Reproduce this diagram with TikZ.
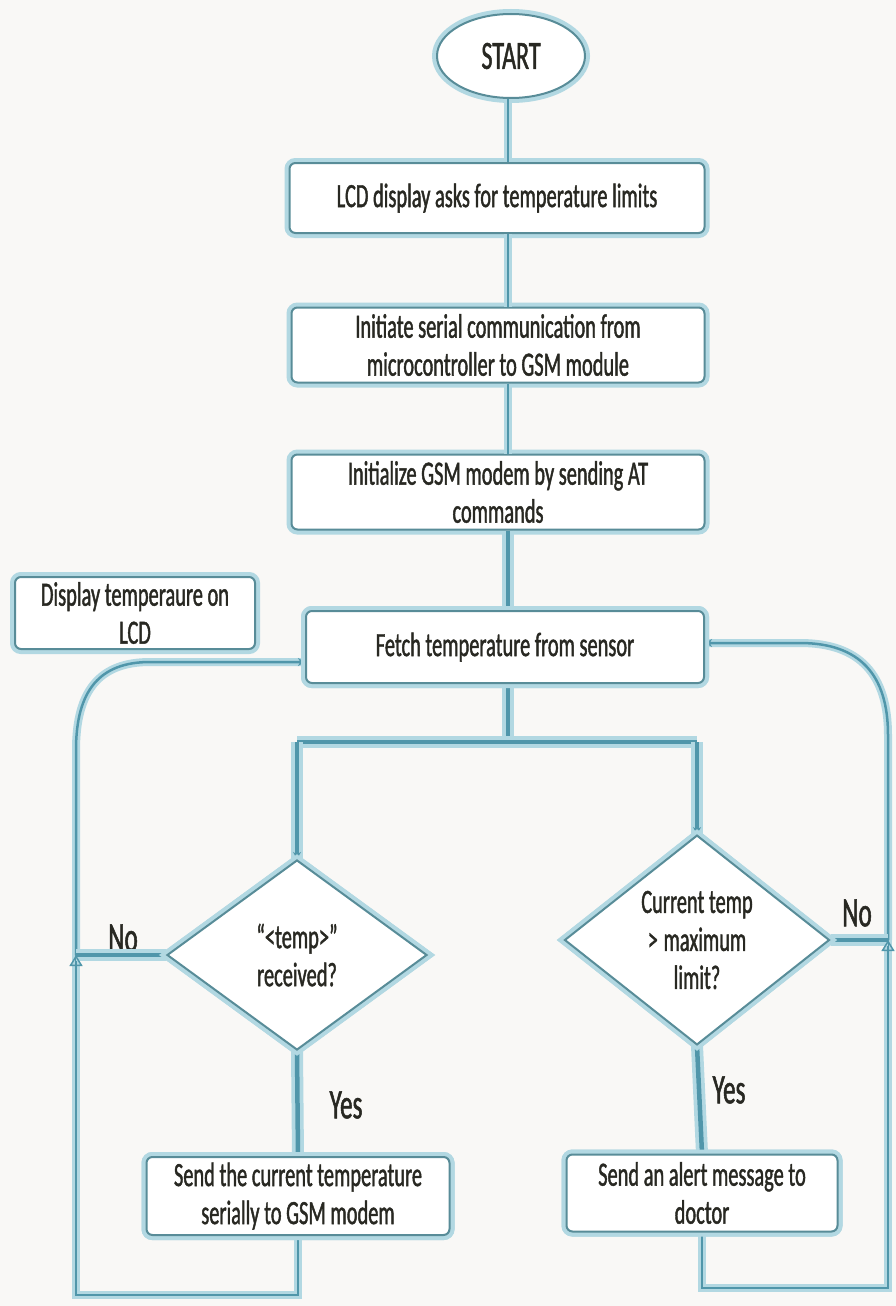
\documentclass[tikz,border=0pt]{standalone}
\usepackage{fontspec}
\setmainfont{Carlito}[FakeStretch=0.6,FakeBold=1.2]
\usetikzlibrary{shapes.geometric,arrows.meta}
\definecolor{bgc}{RGB}{249,248,246}
\definecolor{glowc}{RGB}{178,216,226}
\definecolor{corec}{RGB}{88,140,152}
\definecolor{linec}{RGB}{80,150,170}
\definecolor{txtc}{RGB}{40,40,34}
\tikzset{
  glowbox/.style={preaction={draw=glowc,line width=10pt},draw=corec,line width=2pt,fill=white,
    text=txtc,align=center,inner sep=0pt,font=\fontsize{34}{38}\selectfont},
  procbox/.style={glowbox,rectangle,rounded corners=6pt},
  decbox/.style={glowbox,diamond},
  termbox/.style={glowbox,ellipse,font=\fontsize{40}{40}\selectfont},
  flow/.style={preaction={draw=glowc,line width=12pt},draw=linec,line width=4.5pt},
  thin flow/.style={preaction={draw=glowc,line width=8pt},draw=linec,line width=2.5pt},
  lbl/.style={text=txtc,font=\fontsize{42}{42}\selectfont,inner sep=0pt},
  tip/.style={-{Triangle[open,length=11pt,width=13pt,line width=1.5pt]}},
  smalltip/.style={-{Stealth[length=7pt,width=8pt]}}
}
\begin{document}
\begin{tikzpicture}[x=1pt,y=-1pt]
\fill[bgc] (0,0) rectangle (896,1306);
\useasboundingbox (0,0) rectangle (896,1306);
% nodes
\node[termbox,minimum width=148pt,minimum height=84pt] (start) at (511,56) {START};
\node[procbox,minimum width=415pt,minimum height=70pt] (b1) at (497,198) {LCD display asks for temperature limits};
\node[procbox,minimum width=413pt,minimum height=75pt] (b2) at (498,345) {Initiate serial communication from\\microcontroller to GSM module};
\node[procbox,minimum width=413pt,minimum height=75pt] (b3) at (498,492) {Initialize GSM modem by sending AT\\commands};
\node[procbox,minimum width=240pt,minimum height=72pt] (disp) at (135,613) {Display temperaure on\\LCD};
\coordinate (tx) at (508,0);
\coordinate (j) at (508,742);
\coordinate (lb) at (76,1295);
\coordinate (rb) at (888,1288);
\coordinate (lno) at (76,955);
\coordinate (rno) at (888,940);
\coordinate (lc) at (76,750);
\coordinate (lh) at (150,662);
\coordinate (rc) at (888,735);
\coordinate (rh) at (800,643);
% trunk
\draw[thin flow] (start.south -| tx) -- (b1.north -| tx);
\draw[thin flow] (b1.south -| tx) -- (b2.north -| tx);
\draw[thin flow] (b2.south -| tx) -- (b3.north -| tx);
\draw[flow] (b3.south -| tx) -- (508,612);
\node[procbox,minimum width=398pt,minimum height=72pt] (fetch) at (505,647) {Fetch temperature from sensor};
\node[decbox,minimum width=260pt,minimum height=190pt] (d1) at (297,955) {``<temp>''\\received?};
\node[decbox,minimum width=265pt,minimum height=162pt] (d2) at (697,940) {Current temp\\>\,maximum\\limit?};
\node[procbox,minimum width=303pt,minimum height=78pt] (s1) at (298,1196) {Send the current temperature\\serially to GSM modem};
\node[procbox,minimum width=271pt,minimum height=77pt] (s2) at (702,1193) {Send an alert message to\\doctor};
% labels
\node[lbl] (no1) at (123,938) {No};
\node[lbl] (no2) at (857,913) {No};
\node[lbl] (yes1) at (346,1105) {Yes};
\node[lbl] (yes2) at (729,1090) {Yes};
% branches
\draw[flow] (fetch.south -| tx) -- (j);
\draw[flow] (j -| d1.north) -- (j -| d2.north);
\draw[flow] (j -| d1.north) -- (d1.north);
\draw[flow] (j -| d2.north) -- (d2.north);
\draw[smalltip,draw=linec,line width=1.5pt] (d2.north) ++(0,-14) -- (d2.north);
\draw[smalltip,draw=linec,line width=1.5pt] (d1.north) ++(0,-14) -- (d1.north);
% yes branches
\draw[flow] (d1.south) -- (s1.north);
\draw[flow] (d2.south) -- (s2.north);
% left loop
\draw[thin flow] (s1.south) -- (s1.south |- lb) -- (lb) -- (lno);
\draw[thin flow] (lno) -- (lc) .. controls (76,690) and (100,662) .. (lh) -- (lh -| fetch.west);
\draw[flow] (d1.west) -- (lno);
\draw[tip,draw=linec,line width=1.5pt] (76,985) -- (lno);
\draw[smalltip,draw=linec,line width=1.5pt] (285,662) -- (lh -| fetch.west);
% right loop
\draw[thin flow] (s2.south) -- (s2.south |- rb) -- (rb) -- (rno);
\draw[thin flow] (rno) -- (rc) .. controls (888,675) and (860,643) .. (rh) -- (rh -| fetch.east);
\draw[flow] (d2.east) -- (rno);
\draw[tip,draw=linec,line width=1.5pt] (888,970) -- (rno);
\draw[smalltip,draw=linec,line width=1.5pt] (725,643) -- (rh -| fetch.east);
% redraw node borders on top
\node[procbox,minimum width=398pt,minimum height=72pt] at (fetch) {Fetch temperature from sensor};
\node[decbox,minimum width=260pt,minimum height=190pt] at (d1) {``<temp>''\\received?};
\node[decbox,minimum width=265pt,minimum height=162pt] at (d2) {Current temp\\>\,maximum\\limit?};
\node[procbox,minimum width=303pt,minimum height=78pt] at (s1) {Send the current temperature\\serially to GSM modem};
\node[procbox,minimum width=271pt,minimum height=77pt] at (s2) {Send an alert message to\\doctor};
\end{tikzpicture}
\end{document}
